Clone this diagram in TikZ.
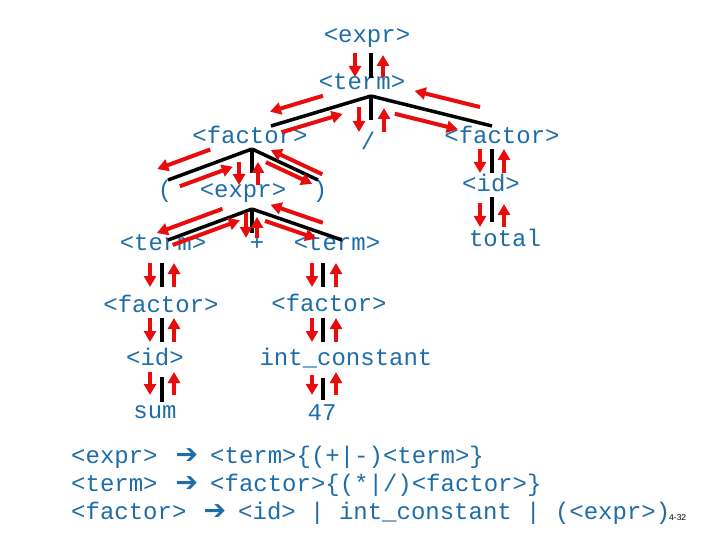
\documentclass[tikz,border=0pt]{standalone}
\usepackage{fontspec}
\usetikzlibrary{calc,arrows.meta}
\newfontfamily\courfont{Liberation Mono}
\newfontfamily\symfont{DejaVu Sans}
\newfontfamily\pagefont{Liberation Sans}
\definecolor{txtblue}{RGB}{30,108,168}
\definecolor{arrred}{RGB}{232,12,12}
\tikzset{
  lbl/.style={inner sep=0pt, anchor=base, text=txtblue, font=\courfont\fontsize{24}{28}\selectfont},
  rulepart/.style={lbl, anchor=base west},
  rulearrow/.style={inner sep=0pt, anchor=base, text=txtblue, font=\symfont\fontsize{27}{30}\selectfont},
  treeline/.style={line width=3.5pt, black},
  redarrow/.style={line width=4pt, arrred, -{Triangle[length=11pt,width=12pt]}},
}
% #1 parent point, #2 child point, #3-#5 outgoing arrow (from, to, offset), #6-#8 return arrow
\newcommand\travedge[8]{%
  \draw[treeline] (#1) -- (#2);
  \draw[redarrow] let \p1=($(#2)-(#1)$), \n1={atan2(\y1,\x1)-90} in
    ($(#1)!#3!(#2)+(\n1:#5pt)$) -- ($(#1)!#4!(#2)+(\n1:#5pt)$);
  \draw[redarrow] let \p1=($(#2)-(#1)$), \n1={atan2(\y1,\x1)+90} in
    ($(#1)!#6!(#2)+(\n1:#8pt)$) -- ($(#1)!#7!(#2)+(\n1:#8pt)$);
}
\begin{document}
\begin{tikzpicture}[x=1pt,y=-1pt]
\useasboundingbox (0,0) rectangle (720,540);
% tree labels
\node[lbl] (expr0) at (367,43) {<expr>};
\node[lbl] (term0) at (362,90) {<term>};
\node[lbl] (factorL) at (250,144) {<factor>};
\node[lbl] (slash) at (368,150) {/};
\node[lbl] (factorR) at (502,144) {<factor>};
\node[lbl] (lparen) at (165,198) {(};
\node[lbl] (expr1) at (243,198) {<expr>};
\node[lbl] (rparen) at (320,198) {)};
\node[lbl] (idR) at (491,192) {<id>};
\node[lbl] (total) at (505,246) {total};
\node[lbl] (termL) at (163,250) {<term>};
\node[lbl] (plus) at (257,250) {+};
\node[lbl] (termR) at (337,250) {<term>};
\node[lbl] (factorLL) at (161,312) {<factor>};
\node[lbl] (factorLR) at (329,311) {<factor>};
\node[lbl] (idL) at (155,365) {<id>};
\node[lbl] (intc) at (346,365) {int\_constant};
\node[lbl] (sum) at (155,418) {sum};
\node[lbl] (n47) at (322,420) {47};
% edge points
\coordinate (c1a) at (371,53);  \coordinate (c1b) at (371,78);
\coordinate (t0) at (371,96);
\coordinate (fL) at (271,126);  \coordinate (sl) at (371,120);  \coordinate (fR) at (492,126);
\coordinate (f0) at (252,149);
\coordinate (lp) at (168,180);  \coordinate (e1t) at (252,173); \coordinate (rp) at (318,180);
\coordinate (fRb) at (492,149); \coordinate (idRt) at (492,173);
\coordinate (idRb) at (492,197); \coordinate (tott) at (492,222);
\coordinate (e1) at (252,209);
\coordinate (tL) at (168,240);  \coordinate (pl) at (252,233);  \coordinate (tR) at (342,240);
\coordinate (tLb) at (162,263);  \coordinate (fLLt) at (162,287);
\coordinate (fLLb) at (162,318); \coordinate (idLt) at (162,342);
\coordinate (idLb) at (162,377); \coordinate (sumt) at (162,402);
\coordinate (tRb) at (323,263);  \coordinate (fLRt) at (323,287);
\coordinate (fLRb) at (323,318); \coordinate (intt) at (323,342);
\coordinate (intb) at (323,378); \coordinate (n47t) at (323,400);
% edges with traversal arrows
\travedge{c1a}{c1b}{0}{0.96}{16}{0.96}{0.08}{12}
\travedge{t0}{fL}{0.44}{0.97}{14}{0.92}{0.31}{9}
\travedge{t0}{sl}{0.46}{1.5}{12}{1.5}{0.5}{13}
\travedge{t0}{fR}{0.22}{0.74}{11.5}{0.87}{0.33}{15.5}
\travedge{f0}{lp}{0.44}{1.07}{14}{0.9}{0.27}{10}
\travedge{f0}{e1t}{0.54}{1.5}{13}{1.5}{0.54}{6}
\travedge{f0}{rp}{0.25}{0.95}{6}{1.02}{0.24}{7}
\travedge{fRb}{idRt}{0}{1}{12}{1}{0}{12}
\travedge{idRb}{tott}{0.24}{1.2}{12}{1.2}{0.28}{12}
\travedge{e1}{tL}{0.31}{1.09}{10.4}{0.97}{0.17}{6.3}
\travedge{e1}{pl}{0.17}{1.2}{6}{1.2}{0.33}{5}
\travedge{e1}{tR}{0.17}{0.74}{7}{0.75}{0.17}{10}
\travedge{tLb}{fLLt}{0}{1}{12}{1}{0}{12}
\travedge{fLLb}{idLt}{0}{1}{12}{1}{0}{12}
\travedge{idLb}{sumt}{-0.2}{0.72}{12}{0.72}{-0.2}{12}
\travedge{tRb}{fLRt}{0}{1}{11}{1}{0}{13}
\travedge{fLRb}{intt}{0}{1}{11}{1}{0}{13}
\travedge{intb}{n47t}{-0.14}{0.77}{11}{0.77}{-0.27}{13}
% grammar rules
\node[rulepart] (r1a) at (71,463) {<expr>};
\node[rulearrow] (r1x) at (187,463) {➔};
\node[rulepart] (r1b) at (210,463) {<term>\{(+|-)<term>\}};
\node[rulepart] (r2a) at (71,491) {<term>};
\node[rulearrow] (r2x) at (187,491) {➔};
\node[rulepart] (r2b) at (210,491) {<factor>\{(*|/)<factor>\}};
\node[rulepart] (r3a) at (71,519) {<factor>};
\node[rulearrow] (r3x) at (215,519) {➔};
\node[rulepart] (r3b) at (238,519) {<id> | int\_constant | (<expr>)};
\node[inner sep=0pt, anchor=base west, font=\pagefont\fontsize{8.5}{10}\selectfont] (pageno) at (669,520) {4-32};
\end{tikzpicture}
\end{document}
